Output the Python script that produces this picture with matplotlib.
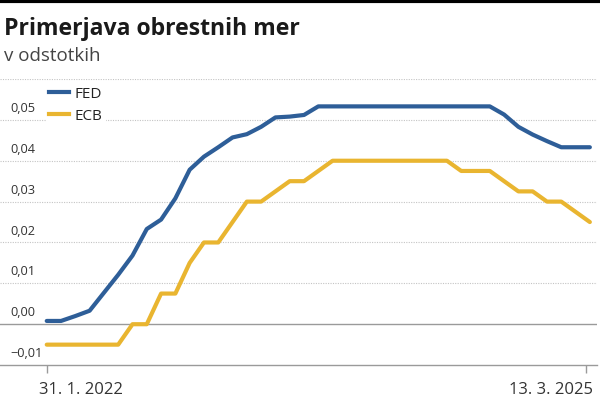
import matplotlib
matplotlib.use("Agg")
import matplotlib.pyplot as plt
from matplotlib.lines import Line2D
from matplotlib.transforms import ScaledTranslation

plt.rcParams['font.family'] = ['Open Sans', 'DejaVu Sans']

# monthly values, jan 2022 - mar 2025
fed = [0.0008, 0.0008, 0.0020, 0.0033, 0.0077, 0.0121, 0.0168, 0.0233, 0.0256, 0.0308, 0.0378, 0.0410,
       0.0433, 0.0457, 0.0465, 0.0483, 0.0506, 0.0508, 0.0512, 0.0533, 0.0533, 0.0533, 0.0533, 0.0533,
       0.0533, 0.0533, 0.0533, 0.0533, 0.0533, 0.0533, 0.0533, 0.0533, 0.0513, 0.0483, 0.0464, 0.0448,
       0.0433, 0.0433, 0.0433]
ecb = [-0.005, -0.005, -0.005, -0.005, -0.005, -0.005, 0.0, 0.0, 0.0075, 0.0075, 0.015, 0.02,
       0.02, 0.025, 0.03, 0.03, 0.0325, 0.035, 0.035, 0.0375, 0.04, 0.04, 0.04, 0.04,
       0.04, 0.04, 0.04, 0.04, 0.04, 0.0375, 0.0375, 0.0375, 0.035, 0.0325, 0.0325, 0.03,
       0.03, 0.0275, 0.025]
x_labels = ["31. 1. 2022", "13. 3. 2025"]
y_ticks = [-0.01, 0.0, 0.01, 0.02, 0.03, 0.04, 0.05]

blue = "#2e5e98"
yellow = "#e9b530"
grey = "#9a9a9a"

fig = plt.figure(figsize=(6, 3.99), dpi=100)
ax = fig.add_axes([0, 0.085, 0.995, 0.717])

x = list(range(len(fed)))
ax.plot(x, fed, color=blue, lw=3, solid_capstyle="round", solid_joinstyle="round", zorder=3)
ax.plot(x, ecb, color=yellow, lw=3, solid_capstyle="round", solid_joinstyle="round", zorder=3)

ax.set_xlim(-3.27, 38.5)
ax.set_ylim(-0.01, 0.06)

# grid
for v in y_ticks[2:] + [0.06]:
    ax.axhline(v, color="#c4c4c4", lw=0.8, ls=(0, (1, 1.2)), zorder=1)
ax.axhline(0, color=grey, lw=1, zorder=2)

for s in ["top", "right", "left"]:
    ax.spines[s].set_visible(False)
ax.spines["bottom"].set_color(grey)
ax.spines["bottom"].set_linewidth(1)

ax.set_yticks([])
for v in y_ticks:
    lab = ("%.2f" % v).replace(".", ",").replace("-", "\u2212")
    ax.text(0.017, v + 0.0012, lab, transform=ax.get_yaxis_transform(),
            fontsize=9.2, color="#333333", ha="left", va="bottom")

ax.set_xticks([0, len(fed) - 1.25])
ax.set_xticklabels(x_labels, fontsize=12, color="#333333")
ax.tick_params(axis="x", length=6, color=grey, width=1, pad=6)
tl = ax.get_xticklabels()
tl[0].set_ha("left")
tl[1].set_ha("right")
tl[0].set_transform(tl[0].get_transform() + ScaledTranslation(-0.08, 0, fig.dpi_scale_trans))
tl[1].set_transform(tl[1].get_transform() + ScaledTranslation(0.07, 0, fig.dpi_scale_trans))

handles = [Line2D([], [], color=blue, lw=3), Line2D([], [], color=yellow, lw=3)]
leg = ax.legend(handles, ["FED", "ECB"], loc="upper left", bbox_to_anchor=(0.07, 1.0),
                frameon=True, fontsize=11, handlelength=1.3, handletextpad=0.35,
                labelspacing=0.45, borderpad=0.2, borderaxespad=0.3)
leg.get_frame().set_facecolor("white")
leg.get_frame().set_edgecolor("none")
leg.get_frame().set_alpha(1)
for t in leg.get_texts():
    t.set_color("#222222")

fig.text(0.006, 0.912, "Primerjava obrestnih mer", fontsize=16.6, fontweight="bold",
         color="#1a1a1a", ha="left", va="baseline")
fig.text(0.006, 0.848, "v odstotkih", fontsize=13.5, color="#444444", ha="left", va="baseline")
fig.add_artist(Line2D([0, 1], [0.997, 0.997], color="black", lw=3, transform=fig.transFigure))

fig.savefig("out.png", dpi=100)
